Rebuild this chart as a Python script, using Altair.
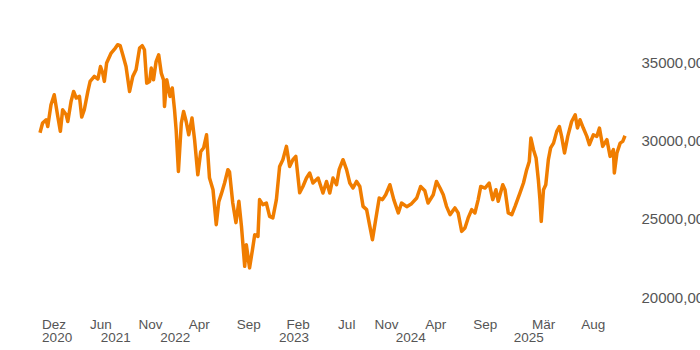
import altair as alt
import pandas as pd

# Price series
dates = [
    "2020-11-26", "2020-12-04", "2020-12-15", "2020-12-20", "2020-12-30", "2021-01-09", "2021-01-20", "2021-01-28",
    "2021-02-04", "2021-02-15", "2021-02-20", "2021-03-02", "2021-03-10", "2021-03-18", "2021-03-28", "2021-04-04",
    "2021-04-12", "2021-04-23", "2021-04-30", "2021-05-13", "2021-05-24", "2021-06-01", "2021-06-08", "2021-06-13",
    "2021-06-20", "2021-07-04", "2021-07-17", "2021-07-24", "2021-08-01", "2021-08-09", "2021-08-19", "2021-08-30",
    "2021-09-09", "2021-09-19", "2021-09-30", "2021-10-08", "2021-10-15", "2021-10-22", "2021-10-31", "2021-11-05",
    "2021-11-12", "2021-11-20", "2021-11-28", "2021-12-06", "2021-12-13", "2021-12-16", "2021-12-23", "2022-01-02",
    "2022-01-09", "2022-01-16", "2022-01-21", "2022-01-28", "2022-02-06", "2022-02-13", "2022-02-21", "2022-03-01",
    "2022-03-11", "2022-03-19", "2022-03-29", "2022-04-07", "2022-04-16", "2022-04-25", "2022-05-04", "2022-05-15",
    "2022-05-25", "2022-06-02", "2022-06-10", "2022-06-20", "2022-06-30", "2022-07-05", "2022-07-15", "2022-07-25",
    "2022-08-03", "2022-08-11", "2022-08-21", "2022-08-26", "2022-09-05", "2022-09-14", "2022-09-21", "2022-10-01",
    "2022-10-06", "2022-10-16", "2022-10-27", "2022-11-06", "2022-11-16", "2022-11-27", "2022-12-07", "2022-12-17",
    "2022-12-28", "2023-01-07", "2023-01-17", "2023-01-26", "2023-02-07", "2023-02-17", "2023-02-28", "2023-03-10",
    "2023-03-20", "2023-04-05", "2023-04-20", "2023-05-01", "2023-05-11", "2023-05-21", "2023-06-01", "2023-06-09",
    "2023-06-21", "2023-07-02", "2023-07-12", "2023-07-22", "2023-08-02", "2023-08-12", "2023-08-22", "2023-09-02",
    "2023-09-12", "2023-09-20", "2023-09-30", "2023-10-11", "2023-10-21", "2023-10-31", "2023-11-13", "2023-11-25",
    "2023-12-09", "2023-12-19", "2024-01-04", "2024-01-19", "2024-02-04", "2024-02-16", "2024-02-29", "2024-03-10",
    "2024-03-26", "2024-04-05", "2024-04-16", "2024-04-26", "2024-05-06", "2024-05-17", "2024-06-01", "2024-06-11",
    "2024-06-22", "2024-07-02", "2024-07-12", "2024-07-23", "2024-08-02", "2024-08-12", "2024-08-20", "2024-09-02",
    "2024-09-15", "2024-09-26", "2024-10-06", "2024-10-13", "2024-10-27", "2024-11-03", "2024-11-13", "2024-11-24",
    "2024-12-04", "2024-12-19", "2024-12-30", "2025-01-09", "2025-01-17", "2025-01-22", "2025-01-30", "2025-02-07",
    "2025-02-14", "2025-02-19", "2025-02-23", "2025-03-02", "2025-03-09", "2025-03-17", "2025-03-24", "2025-04-02",
    "2025-04-12", "2025-04-20", "2025-04-27", "2025-05-06", "2025-05-16", "2025-05-28", "2025-06-08", "2025-06-15",
    "2025-06-23", "2025-07-03", "2025-07-14", "2025-07-22", "2025-08-03", "2025-08-14", "2025-08-22", "2025-09-01",
    "2025-09-14", "2025-09-24", "2025-10-04", "2025-10-07", "2025-10-15", "2025-10-25", "2025-11-02", "2025-11-09",
]
values = [
    30490, 31110, 31320, 30890, 32280, 32920, 31530, 30580,
    31960, 31640, 31210, 32490, 33130, 32710, 32810, 31490,
    31960, 33130, 33770, 34090, 33920, 34720, 34300, 33770,
    34940, 35580, 35900, 36110, 36050, 35470, 34720, 33130,
    34090, 34510, 35900, 36050, 35790, 33660, 33770, 34620,
    33870, 35040, 35470, 34300, 33870, 32170, 33870, 32810,
    33350, 31960, 30680, 28020, 31110, 31850, 31210, 30360,
    31430, 30050, 27810, 29280, 29530, 30360, 27620, 26850,
    24620, 26090, 26600, 27300, 28130, 28000, 26020, 24750,
    26110, 24510, 21960, 23340, 21860, 23020, 23980, 23870,
    26220, 25900, 26000, 25150, 25050, 26220, 28340, 28770,
    29620, 28340, 28770, 28980, 26660, 27060, 27600, 27920,
    27280, 27600, 26640, 27380, 26640, 27600, 27170, 28130,
    28770, 28130, 27280, 26960, 27380, 27060, 25790, 25580,
    24510, 23660, 24940, 26320, 26220, 26530, 27170, 26220,
    25370, 26000, 25770, 25960, 26320, 27060, 26790, 26000,
    26530, 27380, 26960, 26530, 25790, 25260, 25690, 25370,
    24190, 24410, 25050, 25580, 25370, 26220, 27060, 26960,
    27280, 26220, 26850, 26110, 27170, 26850, 25370, 25260,
    25790, 26640, 27280, 28130, 28660, 30150, 29410, 28880,
    27490, 26220, 24830, 26850, 27170, 28770, 29520, 29830,
    30580, 30890, 30260, 29200, 30260, 31210, 31640, 30790,
    31320, 30790, 30260, 29730, 30360, 30260, 30790, 29620,
    30050, 28980, 29410, 27920, 29200, 29830, 29940, 30300,
]

month_ticks = ["2020-12-01", "2021-06-01", "2021-11-01", "2022-04-01", "2022-09-01", "2023-02-01",
               "2023-07-01", "2023-11-01", "2024-04-01", "2024-09-01", "2025-03-01", "2025-08-01"]
year_ticks = ["2021-07-17", "2022-01-17", "2023-01-19", "2024-01-15", "2025-01-14"]
y_ticks = [20000, 25000, 30000, 35000]
y_domain = [20000, 37500]
x_domain = ["2020-11-26", "2025-11-09"]


def dt(s):
    t = pd.Timestamp(s)
    return alt.DateTime(year=t.year, month=t.month, date=t.day)


df = pd.DataFrame({"date": pd.to_datetime(dates), "value": values})

label_expr = (
    "date(datum.value) == 1 ? "
    "[['Jan','Feb','Mär','Apr','Mai','Jun','Jul','Aug','Sep','Okt','Nov','Dez'][month(datum.value)], "
    "(year(datum.value) == 2020 ? '2020' : '')] : ['', '' + year(datum.value)]"
)

chart = alt.Chart(df).mark_line(color="#F07D00", strokeWidth=3.5, strokeJoin="round").encode(
    x=alt.X(
        "date:T",
        scale=alt.Scale(domain=[dt(x_domain[0]), dt(x_domain[1])]),
        axis=alt.Axis(
            values=[dt(s) for s in month_ticks + year_ticks],
            labelExpr=label_expr,
            title=None, domain=False, ticks=False, grid=False,
            labelColor="#555555", labelFont="Liberation Sans", labelFontSize=13.5,
            labelLineHeight=13.5, labelPadding=20, labelFlush=5, labelOverlap=False,
        ),
    ),
    y=alt.Y(
        "value:Q",
        scale=alt.Scale(domain=y_domain, nice=False, zero=False),
        axis=alt.Axis(
            orient="right", values=y_ticks,
            labelExpr="replace(format(datum.value, '.2f'), '.', ',')",
            title=None, domain=False, ticks=False, grid=False,
            labelColor="#555555", labelFont="Liberation Sans", labelFontSize=15,
            labelPadding=16, labelOverlap=False,
        ),
    ),
).properties(
    width=585, height=274,
    autosize=alt.AutoSizeParams(type="none"),
    padding={"left": 40, "top": 23, "right": 75, "bottom": 53},
    background="white",
).configure_view(stroke=None)

chart.save("out.html", embed_options={"renderer": "svg", "actions": False})
